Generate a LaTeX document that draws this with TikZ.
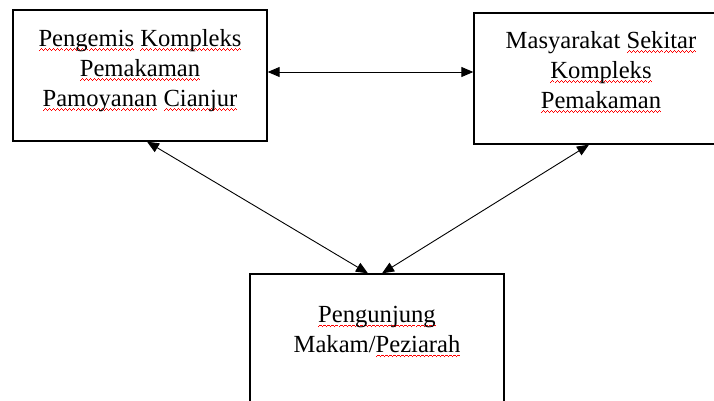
\documentclass[tikz,border=0pt]{standalone}
\usepackage{fontspec}
\setmainfont{Liberation Serif}
\usepackage{xcolor}
\usetikzlibrary{arrows.meta}

\newcommand\wavepiece{\hbox{\rule[-5pt]{1pt}{1pt}\rule[-4.2pt]{1pt}{1pt}\rule[-3.4pt]{1pt}{1pt}\rule[-4.2pt]{1pt}{1pt}}}
\newcommand\wavy[1]{\setbox0\hbox{#1}\leavevmode\rlap{\hbox to\wd0{\color{red}\xleaders\wavepiece\hfil}}\box0\relax}
\newcommand\boxtext[2]{\parbox[c][131pt][t]{254pt}{\centering\fontsize{24.6}{30}\selectfont\vspace*{#1}#2}}

\begin{document}
\begin{tikzpicture}[x=1pt,y=-1pt,line width=0.9pt,box/.style={draw,line width=1.3pt,inner sep=0pt},>={Triangle[length=12pt,width=10pt]}]
      \useasboundingbox (0,0) rectangle (714,401);

      \node[box] (Pengemis)   at (140,75.5)  {\boxtext{19pt}{\wavy{Pengemis} \wavy{Kompleks}\\ \wavy{Pemakaman}\\ \wavy{Pamoyanan} \wavy{Cianjur}}};
      \node[box] (Masyarakat) at (601,78.5)  {\boxtext{18pt}{Masyarakat \wavy{Sekitar}\\ \wavy{Kompleks}\\ \wavy{Pemakaman}}};
      \node[box] (Pengunjung) at (377,339.5) {\boxtext{32pt}{\wavy{Pengunjung}\\ Makam/\wavy{Peziarah}}};

      \path[<->] ([yshift=3.5pt]Pengemis.east)    edge ([yshift=6.5pt]Masyarakat.west)
                 ([xshift=7pt]Pengemis.south)     edge ([xshift=-9pt]Pengunjung.north)
                 ([xshift=-12pt]Masyarakat.south) edge ([xshift=5pt]Pengunjung.north);

    \end{tikzpicture}
\end{document}
